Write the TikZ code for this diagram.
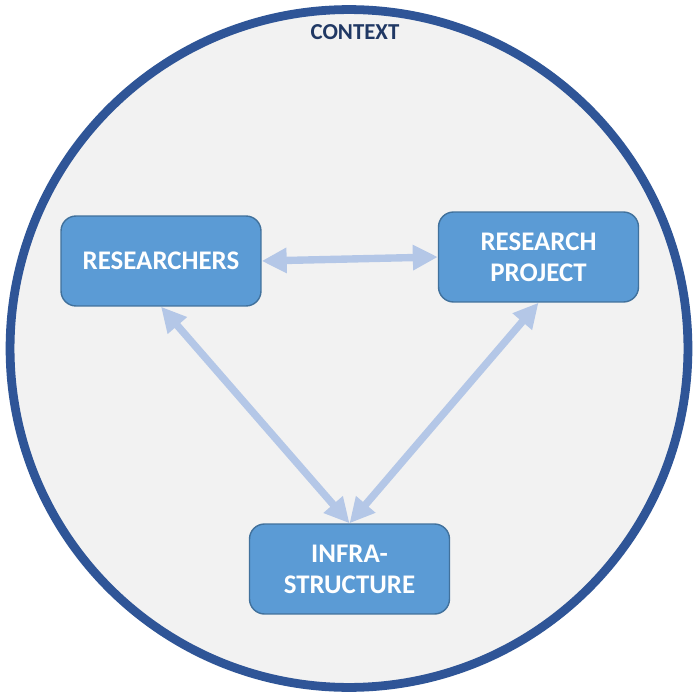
\documentclass[tikz,border=0pt]{standalone}
\usepackage{fontspec}
\setmainfont{Carlito}
\usepackage{xcolor}
\usetikzlibrary{arrows.meta}
\definecolor{ctxborder}{HTML}{2F5597}
\definecolor{ctxtext}{HTML}{203864}
\definecolor{ctxfill}{HTML}{F2F2F2}
\definecolor{boxfill}{HTML}{5B9BD5}
\definecolor{boxborder}{HTML}{41719C}
\definecolor{arrowcol}{HTML}{B4C7E7}

\begin{document}
\begin{tikzpicture}[x=0.02cm, y=-0.02cm,
    box/.style={draw=boxborder, line width=0.8pt, fill=boxfill, rounded corners=0.3cm,
        minimum width=4cm, minimum height=1.8cm, inner sep=0pt, align=center,
        text=white, font=\fontsize{15.3}{17.6}\selectfont\bfseries},
    link/.style={draw=arrowcol, line width=4.2pt,
        {Triangle[length=5mm, width=4.8mm]}-{Triangle[length=5mm, width=4.8mm]}}]
    % page and context circle
    \useasboundingbox[fill=white] (0,0) rectangle (699,699);
    \draw[draw=ctxborder, line width=5pt, fill=ctxfill] (349,348.5) circle[radius=6.78cm];
    \node[text=ctxtext, font=\fontsize{13}{15}\selectfont\bfseries] (ctx) at (355,32) {CONTEXT};

    % the three parts
    \node[box] (res) at (161,261) {RESEARCHERS};
    \node[box] (proj) at (538.5,257) {RESEARCH\\PROJECT};
    \node[box] (infra) at (349.5,569) {INFRA-\\STRUCTURE};

    \path[link] (res.east) -- (proj.west);
    \path[link] (res.south) -- (infra.north);
    \path[link] (proj.south) -- (infra.north);
\end{tikzpicture}
\end{document}
